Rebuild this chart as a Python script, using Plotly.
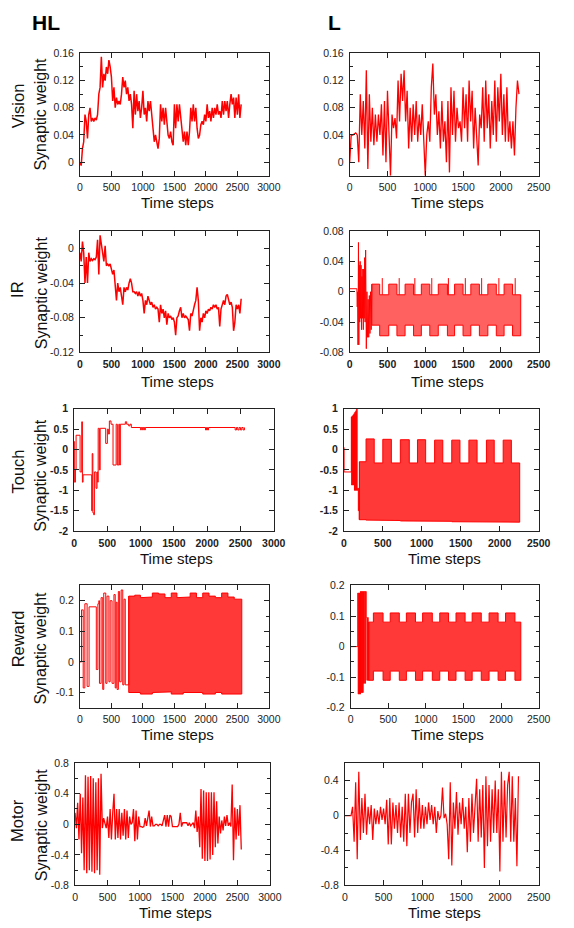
import plotly.graph_objects as go

W, H = 574, 928
RED = "#ff0000"
FONT = "Liberation Sans, Arial, Helvetica, sans-serif"
STEP = 20  # sampling interval (time steps) of the noisy series below

# ------------------------------------------------------------------ data
HL_VISION = [0.0, -0.005, 0.02, 0.03, 0.07, 0.06, 0.035, 0.07, 0.08, 0.06,
             0.065, 0.06, 0.065, 0.062, 0.07, 0.10, 0.11, 0.155, 0.11, 0.13,
             0.12, 0.14, 0.13, 0.15, 0.14, 0.125, 0.09, 0.11, 0.08, 0.095,
             0.085, 0.09, 0.085, 0.10, 0.125, 0.11, 0.12, 0.10, 0.11, 0.09,
             0.10, 0.085, 0.05, 0.105, 0.07, 0.10, 0.075, 0.09, 0.065, 0.08,
             0.105, 0.07, 0.08, 0.06, 0.09, 0.075, 0.09, 0.065, 0.05, 0.03,
             0.04, 0.03, 0.02, 0.035, 0.085, 0.06, 0.08, 0.055, 0.08, 0.06,
             0.04, 0.035, 0.045, 0.03, 0.025, 0.085, 0.05, 0.085, 0.06, 0.085,
             0.065, 0.045, 0.03, 0.045, 0.025, 0.045, 0.025, 0.045, 0.08, 0.06,
             0.085, 0.06, 0.08, 0.05, 0.035, 0.04, 0.055, 0.06, 0.055, 0.07,
             0.06, 0.085, 0.065, 0.075, 0.06, 0.08, 0.065, 0.08, 0.07, 0.085,
             0.07, 0.075, 0.065, 0.09, 0.07, 0.09, 0.075, 0.09, 0.065, 0.085,
             0.10, 0.085, 0.095, 0.065, 0.095, 0.07, 0.10, 0.065, 0.085]

L_VISION = [0.0, 0.04, 0.04, 0.042, 0.043, 0.04, 0.0, 0.10, 0.04, 0.09,
            0.02, 0.135, -0.01, 0.10, 0.03, 0.08, 0.025, 0.07, 0.03, 0.07,
            0.04, 0.085, 0.01, 0.09, 0.0, 0.105, 0.03, -0.02, 0.07, 0.05,
            0.065, 0.035, 0.12, 0.06, 0.13, 0.09, 0.135, 0.06, 0.105, 0.02,
            0.08, 0.03, 0.085, 0.04, 0.09, 0.03, 0.07, 0.04, 0.085, 0.02,
            -0.02, 0.04, 0.06, 0.03, 0.11, 0.145, 0.07, 0.10, 0.04, 0.075,
            0.02, 0.09, 0.03, 0.06, 0.0, 0.09, -0.015, 0.11, 0.04, 0.105,
            0.03, 0.08, 0.05, 0.06, 0.03, 0.11, 0.05, 0.10, 0.03, 0.12,
            0.06, 0.105, 0.02, 0.08, 0.04, -0.005, 0.07, 0.05, 0.11, 0.03,
            0.12, 0.05, 0.10, 0.02, 0.09, 0.04, 0.12, 0.03, 0.11, 0.06,
            0.13, 0.04, 0.10, 0.03, 0.11, 0.03, 0.06, 0.02, 0.06, 0.01,
            0.08, 0.12, 0.10]

HL_IR = [-0.005, -0.015, 0.008, -0.005, -0.04, -0.01, -0.04, -0.005, -0.015, -0.012,
         -0.014, -0.012, -0.013, -0.01, 0.01, -0.03, 0.015, 0.005, -0.01, -0.015,
         0.003, -0.02, -0.018, -0.02, -0.018, -0.025, -0.03, -0.025, -0.045, -0.06,
         -0.04, -0.05, -0.045, -0.055, -0.065, -0.045, -0.05, -0.045, -0.048, -0.04,
         -0.035, -0.04, -0.05, -0.05, -0.052, -0.05, -0.055, -0.05, -0.055, -0.052,
         -0.06, -0.075, -0.06, -0.065, -0.055, -0.06, -0.065, -0.062, -0.068, -0.065,
         -0.07, -0.068, -0.07, -0.085, -0.065, -0.075, -0.07, -0.08, -0.072, -0.088,
         -0.075, -0.08, -0.078, -0.082, -0.08, -0.085, -0.1, -0.08, -0.078, -0.072,
         -0.068, -0.08, -0.075, -0.08, -0.078, -0.08, -0.082, -0.095, -0.075, -0.078,
         -0.07, -0.065, -0.06, -0.045, -0.06, -0.095, -0.08, -0.085, -0.075, -0.08,
         -0.072, -0.075, -0.07, -0.072, -0.068, -0.07, -0.065, -0.068, -0.065, -0.07,
         -0.068, -0.09, -0.07, -0.065, -0.06, -0.065, -0.055, -0.053, -0.06, -0.065,
         -0.062, -0.068, -0.095, -0.085, -0.065, -0.07, -0.065, -0.075, -0.058]

# L / IR: irregular start, then alternating blocks
L_IR_EARLY = [(0, 0.004), (95, 0.004), (100, -0.02), (105, 0.0), (110, -0.07),
              (116, 0.065), (121, -0.07), (126, 0.035), (132, -0.04), (138, 0.04),
              (144, -0.035), (150, 0.035), (156, -0.05), (162, 0.02), (168, -0.035),
              (174, 0.03), (180, -0.05), (186, 0.03), (192, -0.035), (198, 0.045),
              (204, -0.04), (211, 0.055), (216, -0.03), (220, -0.075), (228, 0.0),
              (236, -0.06), (244, -0.01), (252, -0.06), (260, -0.005), (268, -0.055),
              (276, 0.0), (284, -0.05), (293, 0.01)]
L_IR_EDGES = [293, 397, 517, 625, 733, 845, 948, 1060, 1172, 1293,
              1388, 1500, 1603, 1716, 1828, 1940, 2043, 2155, 2263]
L_IR_TOP = [0.01, -0.004, 0.01, -0.004, 0.01, -0.004, 0.01, -0.004, 0.01,
            -0.004, 0.01, -0.004, 0.01, -0.004, 0.01, -0.004, 0.01, -0.004]
L_IR_BOT = [-0.044, -0.058, -0.044, -0.058, -0.044, -0.058, -0.044, -0.058, -0.044,
            -0.058, -0.044, -0.058, -0.044, -0.058, -0.044, -0.058, -0.044, -0.058]
L_IR_SPIKE_T = [431, 655, 862, 1086, 1306, 1530, 1746, 1974, 2190]
L_IR_SPIKE_V = [0.018, 0.018, 0.018, 0.018, 0.018, 0.018, 0.018, 0.018, 0.018]

HL_TOUCH = [(0, 0.2), (5, -0.8), (20, -0.5), (30, 0.35), (90, -0.55), (115, 0.68),
            (125, -0.8), (135, -0.62), (265, -1.5), (272, -0.1), (282, -1.55),
            (295, -1.6), (305, -0.55), (330, -0.95), (345, -0.55), (355, -0.8),
            (362, 0.52), (380, -0.5), (392, 0.52), (475, 0.15), (500, 0.5),
            (515, 0.38), (530, 0.7), (555, 0.62), (585, -0.38), (632, 0.62),
            (650, -0.38), (672, 0.62), (685, -0.38), (695, 0.62), (770, 0.68),
            (790, 0.62), (820, 0.58), (840, 0.62), (860, 0.54), (1000, 0.48),
            (1010, 0.54), (1030, 0.48), (1040, 0.54), (1060, 0.48), (1070, 0.54),
            (1975, 0.48), (1990, 0.54), (2005, 0.48), (2020, 0.54), (2420, 0.48),
            (2440, 0.54), (2460, 0.48), (2480, 0.54), (2500, 0.48), (2520, 0.54),
            (2540, 0.48), (2560, 0.54)]

L_TOUCH_EARLY = [(0, 0.05), (3, -0.55), (96, 0.8), (100, -0.87), (106, 0.82),
                 (112, -0.87), (118, 0.85), (124, -0.87), (130, 0.88), (136, -1.0),
                 (142, 0.92), (148, -1.0), (154, 0.95), (160, -1.0), (165, 1.0),
                 (170, -1.0), (178, -0.95), (186, -1.5), (192, -0.95), (198, -1.72),
                 (200, -0.3)]
L_TOUCH_EDGES = [200, 285, 390, 500, 610, 725, 840, 945, 1050, 1165, 1270,
                 1385, 1490, 1605, 1710, 1830, 1930, 2045, 2150, 2257]
L_TOUCH_TOP = [-0.3, 0.26, -0.33, 0.25, -0.33, 0.24, -0.33, 0.24, -0.33, 0.23,
               -0.33, 0.23, -0.33, 0.23, -0.33, 0.23, -0.33, 0.23, -0.33]
L_TOUCH_BOT = [-1.72, -1.73, -1.73, -1.74, -1.74, -1.75, -1.75, -1.75, -1.76, -1.76,
               -1.76, -1.77, -1.77, -1.77, -1.77, -1.78, -1.78, -1.78, -1.78]

HL_REWARD_EARLY = [(0, 0.0), (25, 0.17), (52, -0.085), (78, 0.19), (114, -0.08),
                   (145, 0.18), (260, -0.025), (285, 0.19), (300, 0.2), (310, -0.07),
                   (336, 0.21), (362, -0.09), (378, 0.225), (410, -0.07), (430, 0.215),
                   (460, -0.065), (480, 0.2), (510, -0.07), (540, 0.22), (560, -0.085),
                   (575, 0.195), (590, -0.09), (610, 0.23), (630, -0.065), (655, 0.235),
                   (680, -0.075), (700, 0.205), (720, -0.075), (775, 0.215)]
HL_REWARD_EDGES = [775, 870, 960, 1060, 1150, 1250, 1350, 1450, 1540, 1640,
                   1750, 1850, 1950, 2050, 2150, 2250, 2350, 2450, 2570]
HL_REWARD_TOP = [0.215, 0.218, 0.21, 0.212, 0.225, 0.222, 0.21, 0.225, 0.21,
                 0.212, 0.225, 0.21, 0.225, 0.215, 0.21, 0.225, 0.212, 0.205]
HL_REWARD_BOT = [-0.1, -0.1, -0.105, -0.105, -0.1, -0.1, -0.098, -0.105, -0.105,
                 -0.1, -0.1, -0.1, -0.105, -0.105, -0.1, -0.105, -0.105, -0.105]

L_REWARD_EARLY = [(0, 0.0), (95, 0.175), (100, -0.155), (106, 0.175), (112, -0.155),
                  (118, 0.175), (124, -0.155), (130, 0.18), (136, -0.15), (142, 0.18),
                  (148, -0.15), (154, 0.18), (160, -0.15), (166, 0.18), (172, -0.12),
                  (180, 0.18), (188, -0.12), (196, 0.18), (207, 0.095), (215, -0.11),
                  (225, 0.095), (233, -0.11), (240, 0.08)]
L_REWARD_EDGES = [240, 302, 431, 526, 647, 741, 862, 957, 1086, 1185,
                  1302, 1401, 1522, 1616, 1737, 1841, 1961, 2060, 2185, 2263]
L_REWARD_TOP = [0.08, 0.11, 0.08, 0.11, 0.08, 0.11, 0.08, 0.11, 0.08, 0.11,
                0.08, 0.11, 0.08, 0.11, 0.08, 0.11, 0.08, 0.11, 0.08]
L_REWARD_BOT = [-0.11, -0.08, -0.11, -0.08, -0.11, -0.08, -0.11, -0.08, -0.11, -0.08,
                -0.11, -0.08, -0.11, -0.08, -0.11, -0.08, -0.11, -0.08, -0.11]

HL_MOTOR = [0.15, -0.05, 0.28, -0.2, 0.4, -0.38, 0.35, -0.6, 0.64, -0.64,
            0.62, -0.6, 0.63, -0.62, 0.6, -0.64, 0.55, -0.6, 0.6, -0.66,
            0.66, -0.05, 0.08, 0.02, -0.05, 0.1, -0.18, 0.2, -0.2, 0.15,
            0.4, -0.2, 0.2, -0.18, 0.2, -0.2, 0.15, -0.15, 0.2, -0.2,
            0.18, -0.18, 0.1, 0.0, 0.02, 0.2, -0.22, 0.18, -0.2, 0.1,
            -0.03, -0.03, -0.04, -0.03, 0.08, -0.02, 0.1, 0.18, -0.03, 0.1,
            -0.02, -0.02, 0.0, 0.0, -0.02, 0.0, 0.0, -0.02, 0.05, 0.12,
            -0.03, 0.12, -0.03, 0.12, 0.1, -0.03, -0.03, -0.03, -0.03, -0.03,
            0.0, 0.15, -0.03, 0.02, 0.02, 0.02, 0.02, -0.02, 0.02, -0.02,
            0.0, 0.02, -0.05, 0.18, -0.1, 0.1, -0.3, 0.46, -0.45, 0.44,
            -0.48, 0.42, -0.48, 0.42, -0.46, 0.42, -0.4, 0.42, -0.3, 0.3,
            -0.25, 0.1, -0.12, 0.05, -0.08, 0.1, -0.02, 0.12, -0.02, 0.02,
            -0.03, 0.52, -0.47, 0.22, -0.2, 0.2, -0.15, 0.25, -0.33]

L_MOTOR = [0.0, 0.0, 0.0, 0.0, 0.0, 0.1, -0.3, 0.38, -0.5, 0.5,
           -0.28, 0.2, -0.2, 0.25, -0.22, 0.1, -0.1, 0.12, -0.28, 0.08,
           -0.1, 0.06, -0.1, 0.1, -0.05, 0.08, -0.1, 0.18, -0.33, 0.2,
           -0.33, 0.15, -0.15, 0.12, -0.2, 0.15, -0.25, 0.1, -0.3, 0.25,
           -0.35, 0.25, -0.2, 0.15, 0.25, -0.25, 0.3, -0.2, 0.2, -0.15,
           0.12, -0.15, 0.1, -0.1, 0.15, -0.05, 0.12, -0.1, 0.1, -0.2,
           0.05, -0.05, 0.0, 0.32, -0.03, 0.02, -0.1, -0.5, 0.38, -0.57,
           0.15, -0.15, 0.27, -0.22, 0.15, -0.1, 0.2, -0.15, 0.1, -0.42,
           0.2, -0.3, 0.25, -0.2, 0.2, 0.42, -0.3, 0.3, -0.25, 0.35,
           -0.6, 0.45, -0.35, 0.35, -0.3, 0.3, -0.2, 0.4, -0.2, 0.3,
           -0.64, 0.5, -0.3, 0.4, -0.25, 0.35, 0.5, -0.3, 0.45, -0.3,
           0.2, -0.58, 0.45]

HL_XTICKS = [0, 500, 1000, 1500, 2000, 2500, 3000]
L_XTICKS = [0, 500, 1000, 1500, 2000, 2500]
VISION_YT = [0, 0.04, 0.08, 0.12, 0.16]
VISION_YL = ["0", "0.04", "0.08", "0.12", "0.16"]
HL_IR_YT = [-0.12, -0.08, -0.04, 0]
HL_IR_YL = ["-0.12", "-0.08", "-0.04", "0"]
L_IR_YT = [-0.08, -0.04, 0, 0.04, 0.08]
L_IR_YL = ["-0.08", "-0.04", "0", "0.04", "0.08"]
TOUCH_YT = [-2, -1.5, -1, -0.5, 0, 0.5, 1]
TOUCH_YL = ["-2", "-1.5", "-1", "-0.5", "0", "0.5", "1"]
HL_REWARD_YT = [-0.1, 0, 0.1, 0.2]
HL_REWARD_YL = ["-0.1", "0", "0.1", "0.2"]
L_REWARD_YT = [-0.2, -0.1, 0, 0.1, 0.2]
L_REWARD_YL = ["-0.2", "-0.1", "0", "0.1", "0.2"]
HL_MOTOR_YT = [-0.8, -0.4, 0, 0.4, 0.8]
HL_MOTOR_YL = ["-0.8", "-0.4", "0", "0.4", "0.8"]
L_MOTOR_YT = [-0.8, -0.4, 0, 0.4]
L_MOTOR_YL = ["-0.8", "-0.4", "0", "0.4"]

ROW_NAMES = ["Vision", "IR", "Touch", "Reward", "Motor"]


# ------------------------------------------------------------------ helpers
def grid(vals):
    return [i * STEP for i in range(len(vals))]


def split(pairs):
    return [p[0] for p in pairs], [p[1] for p in pairs]


def band(edges, top, bot):
    xs, ys = [], []
    for i in range(len(top)):
        xs += [edges[i], edges[i + 1]]
        ys += [top[i], top[i]]
    for i in reversed(range(len(bot))):
        xs += [edges[i + 1], edges[i]]
        ys += [bot[i], bot[i]]
    xs.append(edges[0])
    ys.append(top[0])
    return xs, ys


def spikes(ts, vs, base):
    xs, ys = [], []
    for t, v in zip(ts, vs):
        xs += [t, t, None]
        ys += [base, v, None]
    return xs, ys


fig = go.Figure()


def line(k, x, y, shape="linear", width=1.0):
    fig.add_trace(go.Scatter(x=x, y=y, mode="lines", xaxis="x%d" % k, yaxis="y%d" % k,
                             line=dict(color=RED, width=width, shape=shape),
                             hoverinfo="skip", showlegend=False))


def fillband(k, edges, top, bot, alpha=0.8):
    xs, ys = band(edges, top, bot)
    fig.add_trace(go.Scatter(x=xs, y=ys, mode="lines", fill="toself",
                             fillcolor="rgba(255,0,0,%.2f)" % alpha,
                             xaxis="x%d" % k, yaxis="y%d" % k,
                             line=dict(color=RED, width=1),
                             hoverinfo="skip", showlegend=False))


NOISY_W = 1.5
# 1 HL vision, 2 L vision
line(1, grid(HL_VISION), HL_VISION, width=NOISY_W)
line(2, grid(L_VISION), L_VISION, width=1.3)
# 3 HL IR, 4 L IR
line(3, grid(HL_IR), HL_IR, width=NOISY_W)
fillband(4, L_IR_EDGES, L_IR_TOP, L_IR_BOT, alpha=0.62)
x, y = split(L_IR_EARLY)
line(4, x, y)
x, y = spikes(L_IR_SPIKE_T, L_IR_SPIKE_V, -0.004)
line(4, x, y)
# 5 HL touch, 6 L touch
x, y = split(HL_TOUCH)
line(5, x, y, "hv")
fillband(6, L_TOUCH_EDGES, L_TOUCH_TOP, L_TOUCH_BOT, alpha=0.78)
x, y = split(L_TOUCH_EARLY)
line(6, x, y, "hv")
# 7 HL reward, 8 L reward
fillband(7, HL_REWARD_EDGES, HL_REWARD_TOP, HL_REWARD_BOT, alpha=0.78)
x, y = split(HL_REWARD_EARLY)
line(7, x, y, "hv")
fillband(8, L_REWARD_EDGES, L_REWARD_TOP, L_REWARD_BOT, alpha=0.78)
x, y = split(L_REWARD_EARLY)
line(8, x, y, "hv")
# 9 HL motor, 10 L motor
line(9, grid(HL_MOTOR), HL_MOTOR, width=1.3)
line(10, grid(L_MOTOR), L_MOTOR, width=1.2)

# ------------------------------------------------------------------ layout
# (left px, right px, top px, bottom px, xmax, xticks, yrange, yticks, ylabels, minor dtick)
PANELS = [
    (79, 273, 48, 172, 3000, HL_XTICKS, [-0.02, 0.16], VISION_YT, VISION_YL, 0.02),
    (356, 550, 48, 172, 2500, L_XTICKS, [-0.02, 0.16], VISION_YT, VISION_YL, 0.02),
    (79, 273, 228, 351, 3000, HL_XTICKS, [-0.12, 0.02], HL_IR_YT, HL_IR_YL, 0.02),
    (356, 550, 228, 351, 2500, L_XTICKS, [-0.08, 0.08], L_IR_YT, L_IR_YL, 0.02),
    (73, 278, 408, 532, 3000, HL_XTICKS, [-2, 1], TOUCH_YT, TOUCH_YL, None),
    (350, 550, 408, 532, 2500, L_XTICKS, [-2, 1], TOUCH_YT, TOUCH_YL, None),
    (79, 273, 587, 711, 3000, HL_XTICKS, [-0.15, 0.25], HL_REWARD_YT, HL_REWARD_YL, 0.05),
    (357, 550, 587, 711, 2500, L_XTICKS, [-0.2, 0.2], L_REWARD_YT, L_REWARD_YL, 0.05),
    (74, 274, 767, 891, 3000, HL_XTICKS, [-0.8, 0.8], HL_MOTOR_YT, HL_MOTOR_YL, 0.2),
    (351, 550, 767, 891, 2500, L_XTICKS, [-0.8, 0.6], L_MOTOR_YT, L_MOTOR_YL, 0.2),
]
BOLD_X_ROWS = {1, 2}
BOLD_Y_ROWS = {2}

layout = dict(width=W, height=H, margin=dict(l=0, r=0, t=0, b=0),
              paper_bgcolor="white", plot_bgcolor="white", showlegend=False,
              font=dict(family=FONT, color="#222"))
annotations = []
for i, (l, r, t, b, xmax, xt, yr, yt, yl, mn) in enumerate(PANELS):
    k = i + 1
    row = i // 2
    suffix = "" if k == 1 else str(k)
    common = dict(showgrid=False, zeroline=False, showline=True, linecolor="#222",
                  linewidth=1, mirror="allticks", ticks="inside", ticklen=5,
                  tickcolor="#222", tickwidth=1)
    layout["xaxis" + suffix] = dict(
        common, domain=[l / W, r / W], anchor="y" + suffix, range=[0, xmax],
        tickvals=xt, ticktext=[str(v) for v in xt], ticklabelstandoff=2,
        tickfont=dict(size=10.5, color="#222",
                      weight="bold" if row in BOLD_X_ROWS else "normal"))
    ydict = dict(
        common, domain=[1 - b / H, 1 - t / H], anchor="x" + suffix, range=yr,
        tickvals=yt, ticktext=yl, ticklabelstandoff=3,
        tickfont=dict(size=10.5, color="#222",
                      weight="bold" if row in BOLD_Y_ROWS else "normal"))
    if mn:
        ydict["minor"] = dict(ticks="inside", ticklen=3, dtick=mn, tick0=0,
                              tickcolor="#222")
    layout["yaxis" + suffix] = ydict

TS_Y = [199, 380, 560, 738, 918]
NAME_Y = [101, 287, 472, 641, 825]
SW_Y = [109, 290, 475, 650, 829]
for row in range(5):
    for col in range(2):
        l, r = PANELS[row * 2 + col][0], PANELS[row * 2 + col][1]
        annotations.append(dict(text="Time steps", x=((l + r) / 2 + 3) / W,
                                y=1 - TS_Y[row] / H, xref="paper", yref="paper",
                                showarrow=False, xanchor="center", yanchor="middle",
                                borderpad=0, font=dict(size=15, color="#111")))
    annotations.append(dict(text=ROW_NAMES[row], x=15 / W, y=1 - NAME_Y[row] / H,
                            xref="paper", yref="paper", showarrow=False, textangle=-90,
                            xanchor="center", yanchor="middle",
                            font=dict(size=16.5, color="#111")))
    annotations.append(dict(text="Synaptic weight", x=39 / W, y=1 - SW_Y[row] / H,
                            xref="paper", yref="paper", showarrow=False, textangle=-90,
                            xanchor="center", yanchor="middle",
                            font=dict(size=16, color="#111")))
annotations.append(dict(text="<b>HL</b>", x=28 / W, y=1 - 17 / H, xref="paper",
                        yref="paper", showarrow=False, xanchor="left", yanchor="middle",
                        font=dict(size=21, color="#000")))
annotations.append(dict(text="<b>L</b>", x=332 / W, y=1 - 17 / H, xref="paper",
                        yref="paper", showarrow=False, xanchor="left", yanchor="middle",
                        font=dict(size=21, color="#000")))
layout["annotations"] = annotations
fig.update_layout(**layout)
fig.write_html("out.html")
